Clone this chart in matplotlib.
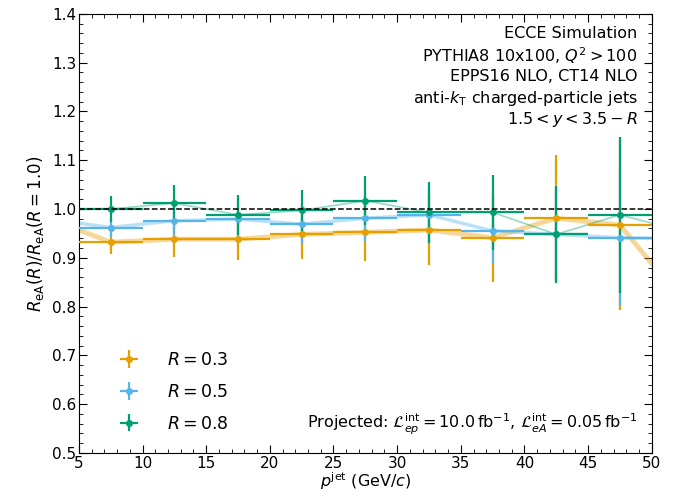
import matplotlib
matplotlib.use("Agg")
import matplotlib.pyplot as plt
from matplotlib.ticker import MultipleLocator

# bins in p_jet
bin_lo = [5, 10, 15, 20, 25, 30, 35, 40, 45]
bin_hi = [10, 15, 20, 25, 30, 35, 40, 45, 50]
bin_c  = [7.5, 12.5, 17.5, 22.5, 27.5, 32.5, 37.5, 42.5, 47.5]

# ratio values per radius
r03     = [0.932, 0.938, 0.938, 0.948, 0.952, 0.957, 0.941, 0.981, 0.967]
r03_err = [0.025, 0.037, 0.042, 0.050, 0.058, 0.072, 0.090, 0.130, 0.175]
r05     = [0.962, 0.976, 0.979, 0.969, 0.981, 0.988, 0.955, 0.948, 0.941]
r05_err = [0.020, 0.030, 0.035, 0.040, 0.048, 0.060, 0.068, 0.095, 0.140]
r08     = [1.000, 1.012, 0.988, 0.997, 1.017, 0.993, 0.993, 0.948, 0.988]
r08_err = [0.026, 0.037, 0.041, 0.042, 0.050, 0.063, 0.077, 0.100, 0.160]

# translucent connecting curves (bin edges 5 and 50 included)
curve_x  = [5, 7.5, 12.5, 17.5, 22.5, 27.5, 32.5, 37.5, 42.5, 47.5, 50]
curve03  = [0.957, 0.932, 0.938, 0.938, 0.948, 0.952, 0.957, 0.941, 0.981, 0.967, 0.888]
curve05  = [0.971, 0.962, 0.976, 0.979, 0.969, 0.981, 0.988, 0.955, 0.948, 0.941, 0.940]
curve08  = [1.000, 1.000, 1.012, 0.988, 0.997, 1.017, 0.993, 0.993, 0.948, 0.988, 0.971]

labels = [r"$R = 0.3$", r"$R = 0.5$", r"$R = 0.8$"]

C_ORANGE = "#E69F00"
C_BLUE   = "#56B4E9"
C_GREEN  = "#009E73"

plt.rcParams["font.family"] = "DejaVu Sans"
plt.rcParams["mathtext.fontset"] = "dejavusans"

fig = plt.figure(figsize=(6.74, 4.96), dpi=100)
ax = fig.add_axes([0.117, 0.087, 0.85, 0.885])

xerr = [[c - lo for c, lo in zip(bin_c, bin_lo)], [hi - c for c, hi in zip(bin_c, bin_hi)]]

series = [(r03, r03_err, curve03, C_ORANGE, 3.5),
          (r05, r05_err, curve05, C_BLUE, 2.5),
          (r08, r08_err, curve08, C_GREEN, 1.2)]

for (vals, errs, curve, col, lw), lab in zip(series, labels):
    ax.plot(curve_x, curve, color=col, alpha=0.4, linewidth=lw, zorder=2)
    ax.errorbar(bin_c, vals, yerr=errs, xerr=xerr, fmt="o", color=col,
                markersize=4, elinewidth=1.6, capsize=0, label=lab, zorder=3)

ax.axhline(1.0, color="black", linestyle="--", linewidth=1.1, zorder=4)

ax.set_xlim(5, 50)
ax.set_ylim(0.5, 1.4)
ax.xaxis.set_major_locator(MultipleLocator(5))
ax.xaxis.set_minor_locator(MultipleLocator(1))
ax.yaxis.set_major_locator(MultipleLocator(0.1))
ax.yaxis.set_minor_locator(MultipleLocator(0.02))
ax.tick_params(which="both", direction="in", top=True, right=True, labelsize=11)
ax.tick_params(which="major", length=6, pad=2)
ax.tick_params(which="minor", length=3)

ax.set_xlabel(r"$p^{\rm jet}$ (GeV/$c$)", fontsize=11.5, labelpad=0)
ax.set_ylabel(r"$R_{\rm eA}(R)/R_{\rm eA}(R=1.0)$", fontsize=12, labelpad=4)

info = ["ECCE Simulation",
        r"PYTHIA8 10x100, $Q^2 > 100$",
        "EPPS16 NLO, CT14 NLO",
        r"anti-$k_{\rm T}$ charged-particle jets",
        r"$1.5 < y < 3.5 - R$"]
for i, line in enumerate(info):
    ax.text(0.975, 0.955 - i * 0.049, line, transform=ax.transAxes,
            ha="right", va="center", fontsize=11.5)

ax.text(0.975, 0.065,
        r"Projected: $\mathcal{L}^{\rm int}_{ep} = 10.0\,{\rm fb}^{-1}$, $\mathcal{L}^{\rm int}_{eA} = 0.05\,{\rm fb}^{-1}$",
        transform=ax.transAxes, ha="right", va="center", fontsize=11.5)

ax.legend(loc="lower left", frameon=False, fontsize=12.5, handletextpad=1.2,
          labelspacing=0.8, bbox_to_anchor=(0.03, 0.01))

fig.savefig("out.png", dpi=100)
